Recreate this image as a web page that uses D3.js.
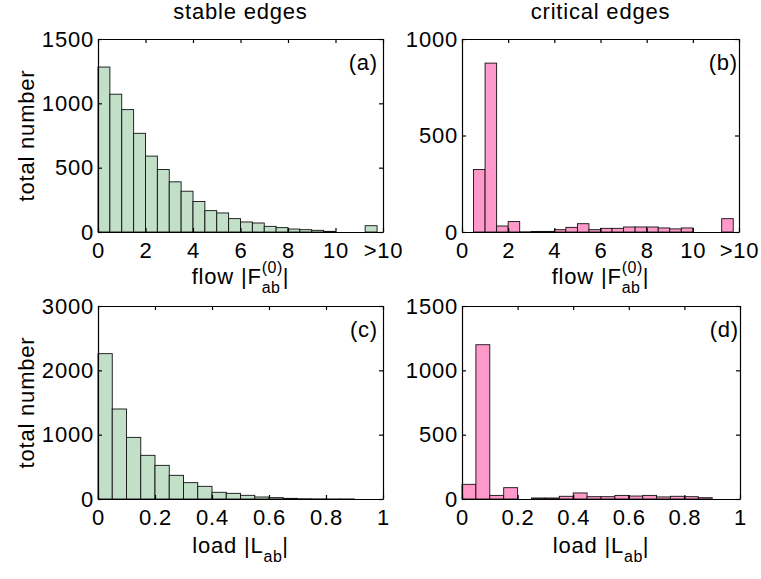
<!DOCTYPE html>
<html>
<head>
<meta charset="utf-8">
<script src="https://cdn.jsdelivr.net/npm/d3@7/dist/d3.min.js"></script>
<style>
  body { margin: 0; background: #fff; }
  svg { display: block; }
  text { font-family: "Liberation Sans", Arial, sans-serif; font-size: 22px; letter-spacing: 0.8px; fill: #000; }
  .axis path, .axis line { stroke: #000; stroke-width: 1.2; }
</style>
</head>
<body>
<div id="chart"></div>
<script>
// histogram counts
// flow panels: 20 bins of 0.5 from 0 to 10, plus one ">10" bin
const stableFlow = [1282, 1071, 951, 767, 590, 486, 390, 317, 237, 166, 148, 104, 78, 70, 44, 34, 23, 18, 13, 5];
const stableFlowOver = 49;
const criticalFlow = [0, 324, 875, 31, 54, 1, 3, 3, 12, 24, 43, 12, 19, 19, 26, 26, 26, 21, 16, 21];
const criticalFlowOver = 69;
// load panels: 20 bins of 0.05 from 0 to 1
const stableLoad = [2259, 1399, 958, 679, 523, 368, 254, 197, 104, 88, 57, 31, 21, 10, 4, 2, 1, 1, 0, 0];
const criticalLoad = [114, 1199, 28, 88, 0, 8, 8, 21, 47, 18, 18, 28, 23, 28, 16, 21, 18, 10, 0, 0];

const flowTicks = [0, 2, 4, 6, 8, 10, 12];
const flowTickLabels = ["0", "2", "4", "6", "8", "10", ">10"];
const loadTicks = [0, 0.2, 0.4, 0.6, 0.8, 1];
const loadTickLabels = ["0", "0.2", "0.4", "0.6", "0.8", "1"];

const columnTitles = ["stable edges", "critical edges"];
const panelLetters = ["(a)", "(b)", "(c)", "(d)"];

const green = "#c2e0c8";
const pink = "#ff99c9";

const svg = d3.select("#chart").append("svg")
    .attr("width", 761)
    .attr("height", 579);

let panels = [
    {box: [98, 383, 39, 232], counts: stableFlow, over: stableFlowOver, binW: 0.5, xdom: [0, 12],
     xticks: flowTicks, xlabels: flowTickLabels, ydom: [0, 1500], yticks: [0, 500, 1000, 1500], color: green, kind: "flow"},
    {box: [462, 739, 39, 232], counts: criticalFlow, over: criticalFlowOver, binW: 0.5, xdom: [0, 12],
     xticks: flowTicks, xlabels: flowTickLabels, ydom: [0, 1000], yticks: [0, 500, 1000], color: pink, kind: "flow"},
    {box: [98, 383, 306, 499], counts: stableLoad, over: null, binW: 0.05, xdom: [0, 1],
     xticks: loadTicks, xlabels: loadTickLabels, ydom: [0, 3000], yticks: [0, 1000, 2000, 3000], color: green, kind: "load"},
    {box: [462, 740, 306, 499], counts: criticalLoad, over: null, binW: 0.05, xdom: [0, 1],
     xticks: loadTicks, xlabels: loadTickLabels, ydom: [0, 1500], yticks: [0, 500, 1000, 1500], color: pink, kind: "load"}
];

// text with a stacked sub/superscript, e.g. flow |F_ab^(0)|
function scriptLabel(cx, y, head, sub, sup, tail) {
    let g = svg.append("g");
    let t1 = g.append("text").attr("y", y).text(head);
    let w1 = t1.node().getComputedTextLength();
    let s1 = g.append("text").attr("x", w1).attr("y", y + 9)
        .style("font-size", "16px").style("letter-spacing", "0.5px").text(sub);
    let ws = s1.node().getComputedTextLength();
    if (sup) {
        let s2 = g.append("text").attr("x", w1).attr("y", y - 11)
            .style("font-size", "16px").style("letter-spacing", "0.5px").text(sup);
        ws = Math.max(ws, s2.node().getComputedTextLength());
    }
    let t3 = g.append("text").attr("x", w1 + ws).attr("y", y).text(tail);
    let total = w1 + ws + t3.node().getComputedTextLength();
    g.attr("transform", "translate(" + (cx - total / 2) + ",0)");
}

panels.forEach((p, i) => {
    let [x0, x1, y0, y1] = p.box;
    let x = d3.scaleLinear().domain(p.xdom).range([x0, x1]);
    let y = d3.scaleLinear().domain(p.ydom).range([y1, y0]);

    let bins = p.counts.map((c, k) => ({lo: k * p.binW, hi: (k + 1) * p.binW, c: c}));
    if (p.over !== null) {
        bins.push({lo: 11.25, hi: 11.75, c: p.over});
    }

    svg.append("g").selectAll("rect")
        .data(bins)
        .enter().append("rect")
        .attr("x", d => x(d.lo))
        .attr("y", d => y(d.c))
        .attr("width", d => x(d.hi) - x(d.lo))
        .attr("height", d => y(0) - y(d.c))
        .attr("fill", p.color)
        .attr("stroke", "#111")
        .attr("stroke-width", 0.9);

    let xb = svg.append("g").attr("class", "axis")
        .attr("transform", "translate(0," + y1 + ")")
        .call(d3.axisBottom(x).tickValues(p.xticks).tickFormat((d, k) => p.xlabels[k])
            .tickSizeInner(-4).tickSizeOuter(0).tickPadding(10));
    xb.selectAll("text").attr("font-size", null).attr("font-family", null);

    svg.append("g").attr("class", "axis")
        .attr("transform", "translate(0," + y0 + ")")
        .call(d3.axisTop(x).tickValues(p.xticks).tickFormat("").tickSizeInner(-4).tickSizeOuter(0));

    let yl = svg.append("g").attr("class", "axis")
        .attr("transform", "translate(" + x0 + ",0)")
        .call(d3.axisLeft(y).tickValues(p.yticks).tickFormat(d3.format("d"))
            .tickSizeInner(-4).tickSizeOuter(0).tickPadding(4));
    yl.selectAll("text").attr("font-size", null).attr("font-family", null);

    svg.append("g").attr("class", "axis")
        .attr("transform", "translate(" + x1 + ",0)")
        .call(d3.axisRight(y).tickValues(p.yticks).tickFormat("").tickSizeInner(-4).tickSizeOuter(0));

    svg.append("text")
        .attr("x", x1 - (i % 2 ? 1 : 5))
        .attr("y", y0 + 31)
        .attr("text-anchor", "end")
        .text(panelLetters[i]);

    let cx = (x0 + x1) / 2;
    if (p.kind === "flow") {
        scriptLabel(cx, y1 + 52, "flow |F", "ab", "(0)", "|");
    } else {
        scriptLabel(cx, y1 + 54, "load |L", "ab", null, "|");
    }

    if (i % 2 === 0) {
        svg.append("text")
            .attr("transform", "translate(34," + ((y0 + y1) / 2) + ") rotate(-90)")
            .attr("text-anchor", "middle")
            .text("total number");
    }
    if (i < 2) {
        svg.append("text")
            .attr("x", cx)
            .attr("y", 19)
            .attr("text-anchor", "middle")
            .text(columnTitles[i]);
    }
});
</script>
</body>
</html>
